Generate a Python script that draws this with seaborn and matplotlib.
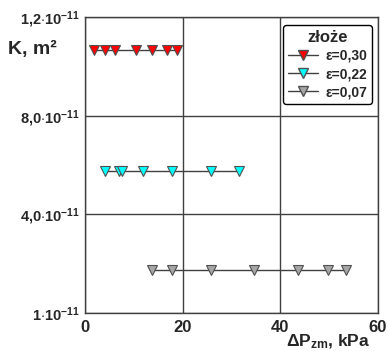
import seaborn as sns
import numpy as np
import matplotlib.pyplot as plt
import pandas as pd
from matplotlib.lines import Line2D

# K values (axis units: 1e-11 m2 as labelled)
dp_030 = [1.8, 4.1, 6.1, 10.5, 13.7, 16.8, 18.9]
k_030 = [10.66] * 7
dp_022 = [4.0, 7.0, 7.6, 11.8, 17.8, 25.8, 31.6]
k_022 = [5.77] * 7
dp_007 = [13.8, 17.8, 25.8, 34.6, 43.7, 49.7, 53.5]
k_007 = [1.75] * 7

labels = ["ε=0,30", "ε=0,22", "ε=0,07"]
colors = ["#ff0000", "#00ffff", "#a6a6a6"]
xticks = [0, 20, 40, 60]
yticks = [0, 4, 8, 12]
yticklabels = ["$1{\\cdot}10^{-11}$", "$4{,}0{\\cdot}10^{-11}$", "$8{,}0{\\cdot}10^{-11}$", "$1{,}2{\\cdot}10^{-11}$"]

sns.set_style("white")
plt.rcParams["font.family"] = ["Liberation Sans", "DejaVu Sans"]
plt.rcParams["mathtext.fontset"] = "custom"
plt.rcParams["mathtext.bf"] = "Liberation Sans:bold"
plt.rcParams["mathtext.rm"] = "Liberation Sans:bold"
plt.rcParams["mathtext.default"] = "bf"

fig = plt.figure(figsize=(3.88, 3.51), dpi=100)
ax = fig.add_axes([0.219, 0.108, 0.755, 0.844])

series = [(dp_030, k_030), (dp_022, k_022), (dp_007, k_007)]
for (x, y), c in zip(series, colors):
    sns.lineplot(x=x, y=y, ax=ax, color="#404040", linewidth=1, marker="v",
                 markersize=7, markerfacecolor=c, markeredgecolor="#505050",
                 markeredgewidth=0.8, sort=False)

ax.set_xlim(0, 60)
ax.set_ylim(0, 12)
ax.set_xticks(xticks)
ax.set_yticks(yticks)
ax.set_yticklabels(yticklabels, fontsize=10.5)
ax.set_xticklabels([str(t) for t in xticks], fontsize=12, fontweight="bold")
ax.tick_params(axis="both", length=3, width=1, color="#404040", pad=2, direction="out")
ax.tick_params(axis="y", pad=1)
ax.grid(True, color="#404040", linewidth=1)
for s in ax.spines.values():
    s.set_color("#404040")
    s.set_linewidth(1)
ax.set_xlabel("")
ax.set_ylabel("")

fig.text(0.02, 0.858, "K, m²", fontsize=14, fontweight="bold", ha="left", va="center")
fig.text(0.845, 0.052, "ΔP$_{\\mathbf{zm}}$, kPa", fontsize=12.5, fontweight="bold",
         ha="center", va="top")

handles = [Line2D([], [], color="#404040", linewidth=1, marker="v", markersize=7,
                  markerfacecolor=c, markeredgecolor="#505050") for c in colors]
leg = ax.legend(handles, labels, title="złoże", loc="upper right",
                bbox_to_anchor=(0.98, 0.973), borderaxespad=0, fancybox=True, frameon=True,
                edgecolor="black", framealpha=1, handlelength=2.2, handletextpad=0.5,
                borderpad=0.35, labelspacing=0.3,
                prop={"family": ["Liberation Sans Narrow", "Liberation Sans"], "weight": "bold", "size": 10})
leg.get_title().set_fontweight("bold")
leg.get_title().set_fontsize(12)
leg.get_frame().set_linewidth(1)

fig.savefig("out.png", dpi=100)
